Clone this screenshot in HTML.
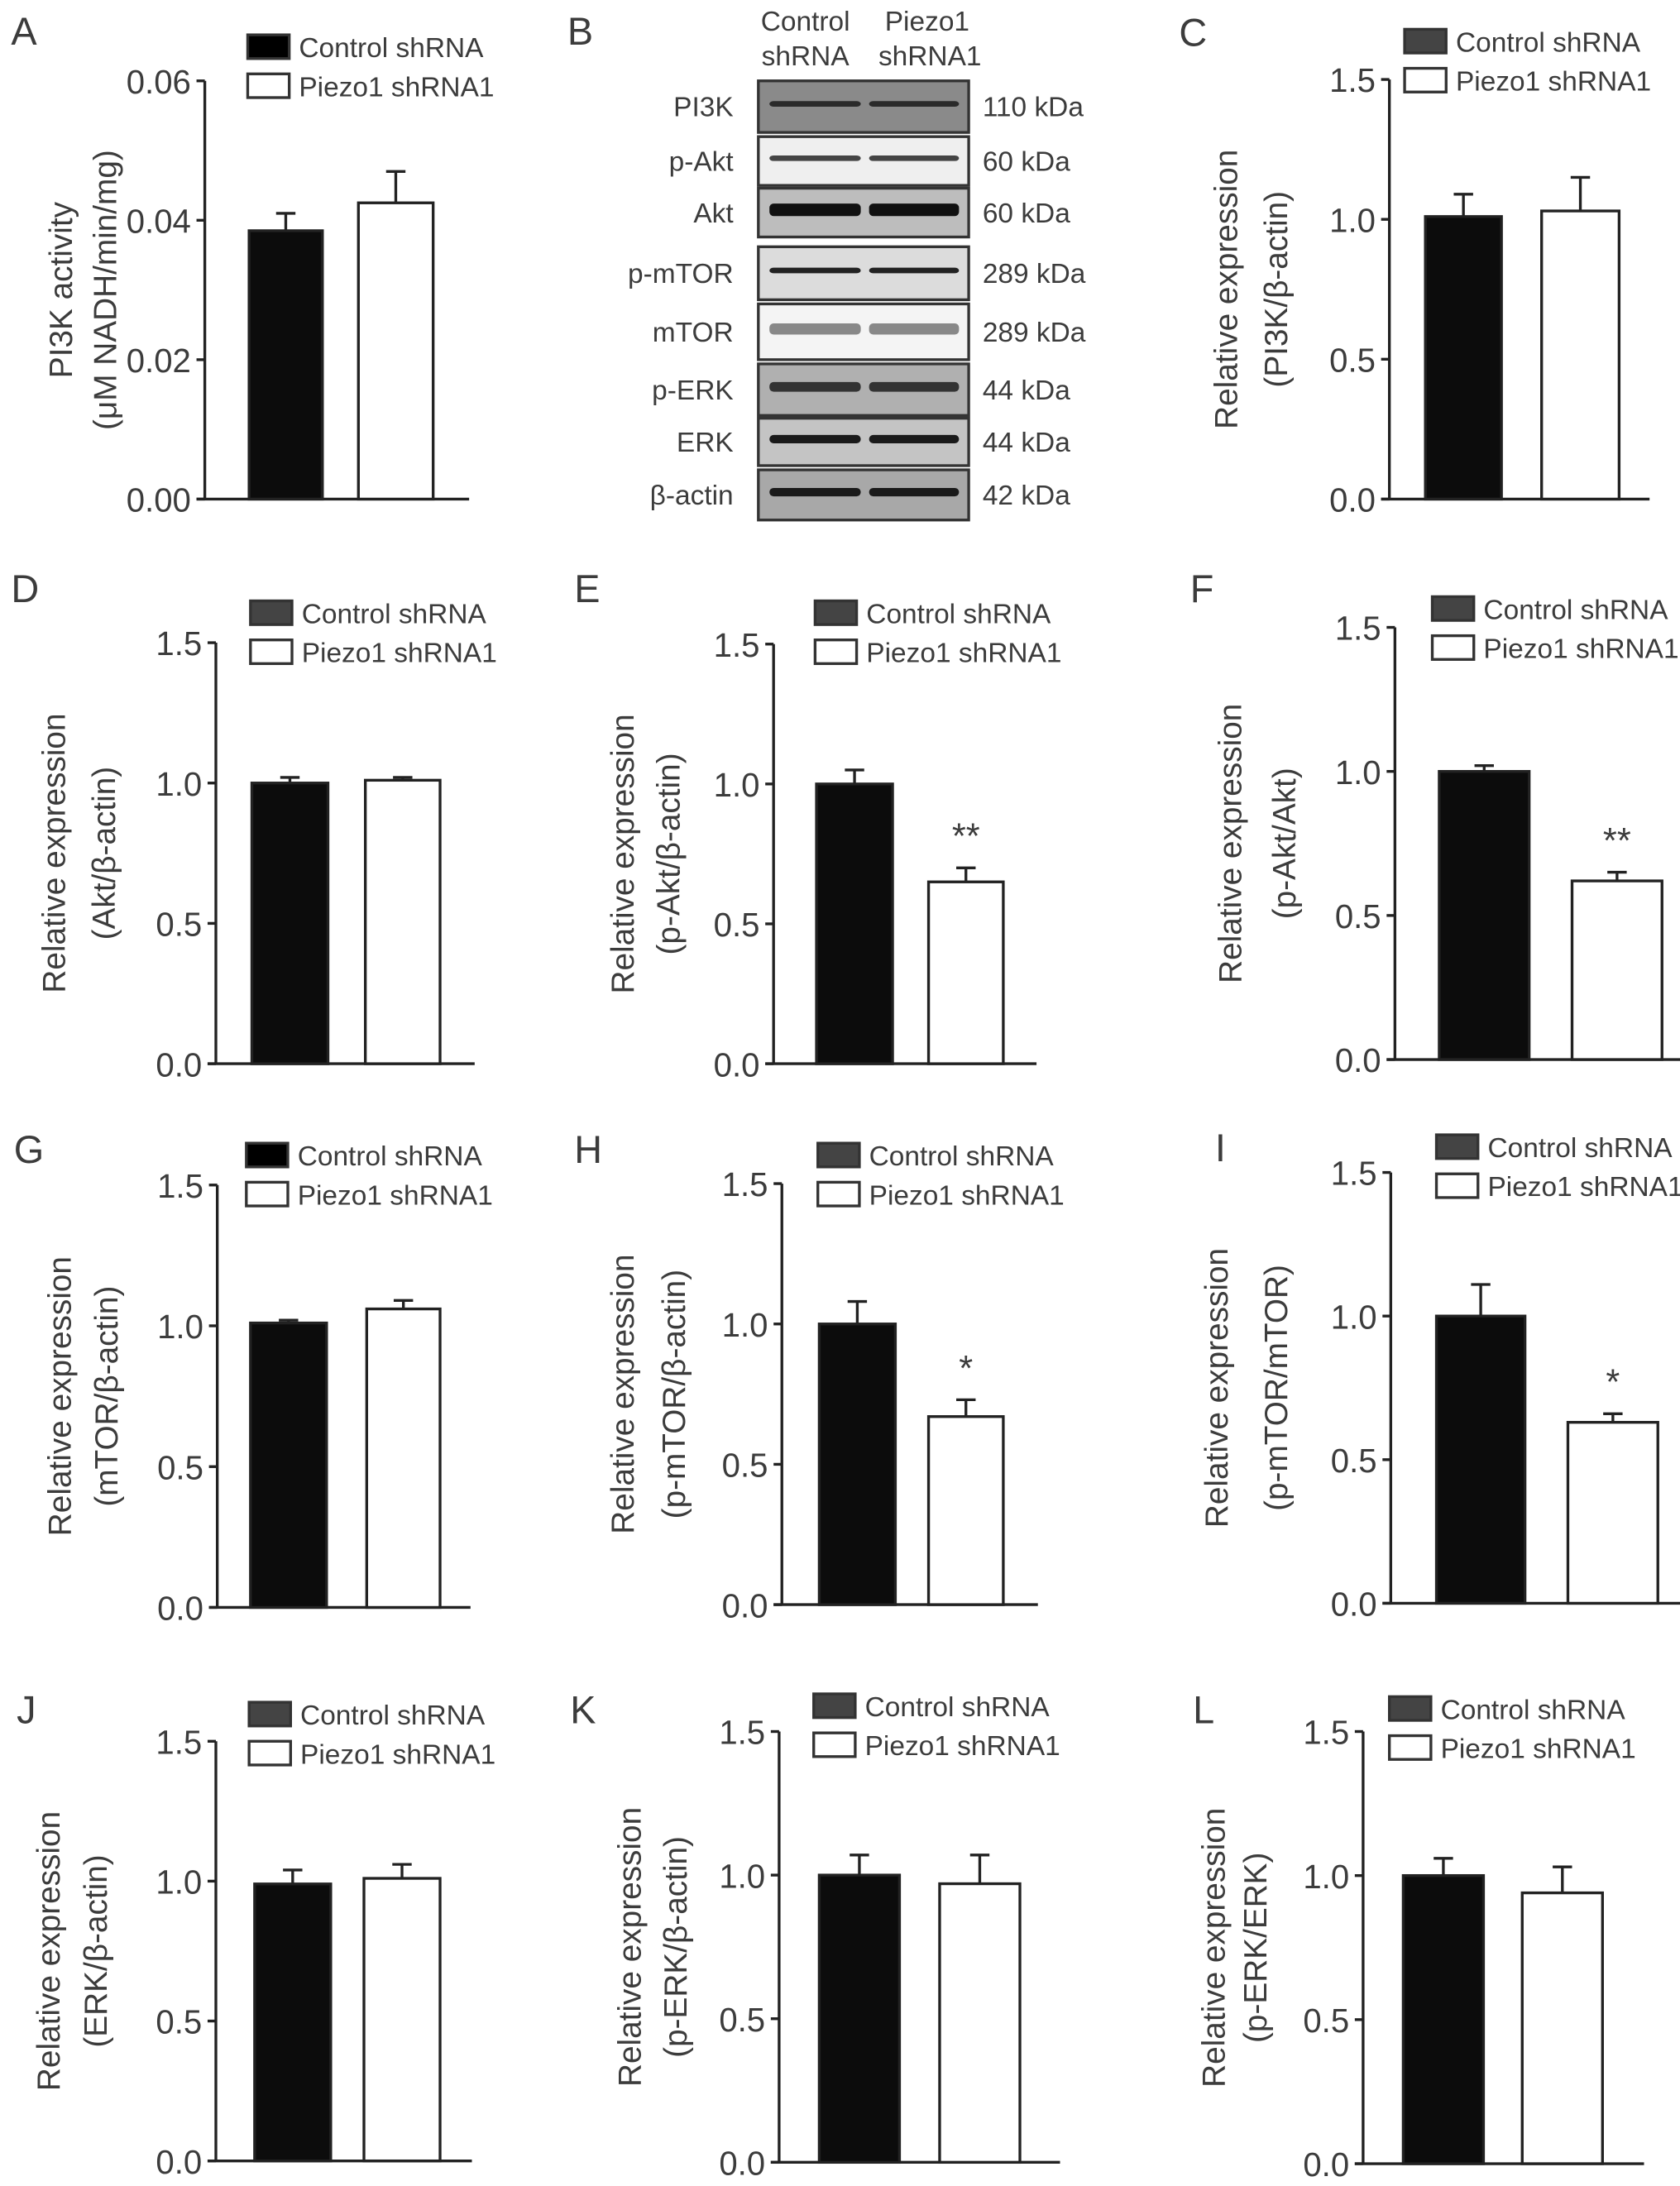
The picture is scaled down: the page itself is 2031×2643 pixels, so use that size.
<!DOCTYPE html>
<html><head><meta charset="utf-8">
<style>
html,body{margin:0;padding:0;background:#fff;}
svg{display:block;}
text{font-family:"Liberation Sans",sans-serif;fill:#3c3c3c;}
</style></head>
<body>
<svg id="fig" width="2031" height="2643" viewBox="0 0 1214 1568" preserveAspectRatio="none" xmlns="http://www.w3.org/2000/svg">
<g id="blot"></g>
</svg>
<script>
// ---- data ----
const panelLetters = ["A","C","D","E","F","G","H","I","J","K","L"];
const yTitles1 = ["PI3K  activity","Relative expression","Relative expression","Relative expression","Relative expression","Relative expression","Relative expression","Relative expression","Relative expression","Relative expression","Relative expression"];
const yTitles2 = ["(μM NADH/min/mg)","(PI3K/β-actin)","(Akt/β-actin)","(p-Akt/β-actin)","(p-Akt/Akt)","(mTOR/β-actin)","(p-mTOR/β-actin)","(p-mTOR/mTOR)","(ERK/β-actin)","(p-ERK/β-actin)","(p-ERK/ERK)"];
const controlValues = [0.0385,1.01,1.0,1.0,1.0,1.01,1.0,1.0,0.99,1.0,1.0];
const controlErrTop = [0.041,1.09,1.02,1.05,1.02,1.02,1.08,1.11,1.04,1.07,1.06];
const piezoValues = [0.0425,1.03,1.01,0.65,0.62,1.06,0.67,0.63,1.01,0.97,0.94];
const piezoErrTop = [0.047,1.15,1.02,0.70,0.65,1.09,0.73,0.66,1.06,1.07,1.03];
const significance = ["","","","**","**","","*","*","","",""];
const ticksA = ["0.00","0.02","0.04","0.06"];
const tickValuesA = [0,0.02,0.04,0.06];
const ticksRel = ["0.0","0.5","1.0","1.5"];
const tickValuesRel = [0,0.5,1.0,1.5];
const legendLabels = ["Control shRNA","Piezo1 shRNA1"];
const blotProteins = ["PI3K","p-Akt","Akt","p-mTOR","mTOR","p-ERK","ERK","β-actin"];
const blotSizes = ["110 kDa","60 kDa","60 kDa","289 kDa","289 kDa","44 kDa","44 kDa","42 kDa"];

// ---- layout (pixel geometry, not data) ----
const layout = [
 {ax:148,top:58,bot:358,xend:339,b1:[180,233],b2:[259,313],lx:179,ly:25,lt:[8,32],tx:[44,76],leg:"#000"},
 {ax:1004,top:57,bot:358,xend:1192,b1:[1030,1085],b2:[1114,1170],lx:1015,ly:21,lt:[852,33],tx:[886,922],leg:"#444"},
 {ax:156,top:461,bot:763,xend:343,b1:[182,237],b2:[264,318],lx:181,ly:431,lt:[8,432],tx:[39,75],leg:"#444"},
 {ax:559,top:462,bot:763,xend:749,b1:[590,645],b2:[671,725],lx:589,ly:431,lt:[415,432],tx:[450,483],leg:"#444"},
 {ax:1008,top:450,bot:760,xend:1233,b1:[1040,1105],b2:[1136,1201],lx:1035,ly:428,lt:[860,432],tx:[889,928],leg:"#444"},
 {ax:157,top:850,bot:1153,xend:340,b1:[181,236],b2:[265,318],lx:178,ly:820,lt:[10,834],tx:[43,77],leg:"#000"},
 {ax:565,top:849,bot:1151,xend:750,b1:[592,647],b2:[671,725],lx:591,ly:820,lt:[415,834],tx:[450,487],leg:"#444"},
 {ax:1005,top:841,bot:1150,xend:1230,b1:[1038,1102],b2:[1133,1198],lx:1038,ly:814,lt:[878,833],tx:[879,922],leg:"#444"},
 {ax:156,top:1249,bot:1550,xend:341,b1:[184,239],b2:[263,318],lx:180,ly:1221,lt:[12,1236],tx:[35,69],leg:"#444"},
 {ax:563,top:1242,bot:1551,xend:766,b1:[592,650],b2:[679,737],lx:588,ly:1215,lt:[412,1236],tx:[455,488],leg:"#444"},
 {ax:985,top:1242,bot:1552,xend:1188,b1:[1014,1072],b2:[1100,1158],lx:1004,ly:1217,lt:[862,1236],tx:[877,907],leg:"#444"}
];
const NS="http://www.w3.org/2000/svg";
const svg=document.getElementById('fig');
function mk(tag,attrs,parent,txt){const e=document.createElementNS(NS,tag);for(const k in attrs)e.setAttribute(k,attrs[k]);if(txt!==undefined)e.textContent=txt;parent.appendChild(e);return e;}

panelLetters.forEach((L,i)=>{
  const g=layout[i];
  const grp=mk('g',{},svg);
  
  
  const isA=i===0;
  const tv=isA?tickValuesA:tickValuesRel, tl=isA?ticksA:ticksRel, vmax=tv[tv.length-1];
  const y=v=>g.bot-(v/vmax)*(g.bot-g.top);
  const lt=mk('text',{x:g.lt[0],y:g.lt[1],'font-size':28},grp,L);
  
  
  const ya=mk('line',{x1:g.ax,y1:g.top,x2:g.ax,y2:g.bot,stroke:'#222','stroke-width':2},grp);
  
  
  const xa=mk('line',{x1:g.ax-6,y1:g.bot,x2:g.xend,y2:g.bot,stroke:'#222','stroke-width':2},grp);
  
  
  tv.forEach((v,k)=>{
    mk('line',{x1:g.ax-6,y1:y(v),x2:g.ax,y2:y(v),stroke:'#222','stroke-width':2},grp);
    const t=mk('text',{x:g.ax-10,y:y(v)+9,'font-size':24,'text-anchor':'end'},grp,tl[k]);
    
    
  });
  const cy=(g.top+g.bot)/2;
  [yTitles1[i],yTitles2[i]].forEach((s,k)=>{
    const bx=g.tx[k]+8;
    const t=mk('text',{x:bx,y:cy,'font-size':23,'text-anchor':'middle',transform:`rotate(-90 ${bx} ${cy})`},grp,s);
    
    
  });
  const drawBar=(xr,val,err,fill,name)=>{
    const ex=(xr[0]+xr[1])/2;
    const e=mk('line',{x1:ex,y1:y(err),x2:ex,y2:y(val),stroke:'#222','stroke-width':2},grp);
    
    
    mk('line',{x1:ex-7,y1:y(err),x2:ex+7,y2:y(err),stroke:'#222','stroke-width':2},grp);
    const b=mk('rect',{x:xr[0],y:y(val),width:xr[1]-xr[0],height:g.bot-y(val),fill:fill,stroke:'#222','stroke-width':2},grp);
    
    
  };
  drawBar(g.b1,controlValues[i],controlErrTop[i],'#0c0c0c','bar-control');
  drawBar(g.b2,piezoValues[i],piezoErrTop[i],'#fff','bar-piezo1');
  if(significance[i]){
    const s=mk('text',{x:(g.b2[0]+g.b2[1])/2,y:y(piezoErrTop[i])-14,'font-size':26,'text-anchor':'middle'},grp,significance[i]);
    
    
  }
  [[g.leg,legendLabels[0]],['#fff',legendLabels[1]]].forEach((d,k)=>{
    const yy=g.ly+k*28;
    const r=mk('rect',{x:g.lx,y:yy,width:30,height:17,fill:d[0],stroke:'#333','stroke-width':2},grp);
    
    
    const t=mk('text',{x:g.lx+37,y:yy+16,'font-size':20},grp,d[1]);
    
    
  });
});

// ---- western blot panel B ----
const blot=document.getElementById('blot');
mk('text',{x:410,y:32,'font-size':28},blot,'B');
[['Control',582,22],['shRNA',582,47],['Piezo1',670,22],['shRNA1',672,47]].forEach(d=>{
  const t=mk('text',{x:d[1],y:d[2],'font-size':20,'text-anchor':'middle'},blot,d[0]);
  
  
});
const rowTops=[58,98,135,177,218,261,300,337];
const rowBots=[95,133,170,215,258,298,334,373];
const bgs=['#8a8a8a','#efefef','#bdbdbd','#dcdcdc','#f4f4f4','#b0b0b0','#c4c4c4','#a8a8a8'];
const bandDark=['#2a2a2a','#444','#111','#222','#888','#333','#1a1a1a','#1a1a1a'];
const bandW=[4,4,9,4,8,7,6,6];
blotProteins.forEach((p,k)=>{
  const t0=rowTops[k],b0=rowBots[k],c=(t0+b0)/2;
  const r=mk('rect',{x:548,y:t0,width:152,height:b0-t0,fill:bgs[k],stroke:'#333','stroke-width':2},blot);
  
  
  mk('rect',{x:556,y:c-bandW[k]/2-2,width:66,height:bandW[k],rx:3,fill:bandDark[k]},blot);
  mk('rect',{x:628,y:c-bandW[k]/2-2,width:65,height:bandW[k],rx:3,fill:bandDark[k]},blot);
  const a=mk('text',{x:530,y:c+7,'font-size':20,'text-anchor':'end'},blot,p);
  
  
  const s=mk('text',{x:710,y:c+7,'font-size':20},blot,blotSizes[k]);
  
  
});
</script>
</body></html>
